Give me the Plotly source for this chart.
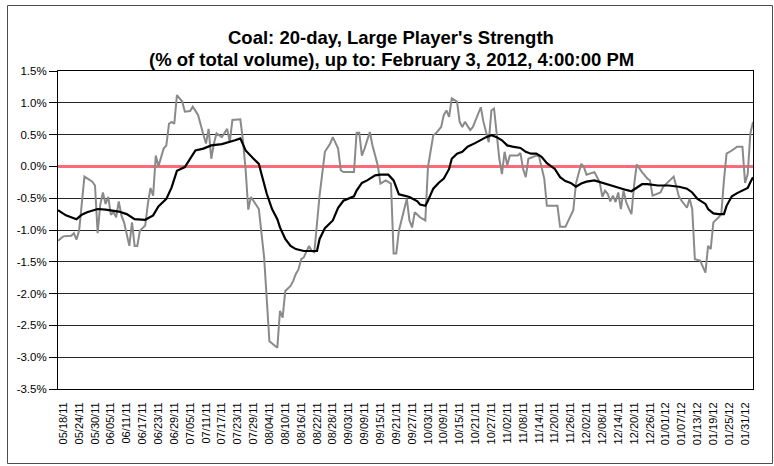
import plotly.graph_objects as go
import pandas as pd

# ---- data (values in % of total volume) ----
gray_dates = [
    "2011-05-16", "2011-05-18", "2011-05-21", "2011-05-22", "2011-05-23", "2011-05-24", "2011-05-26",
    "2011-05-28", "2011-05-29", "2011-05-30", "2011-05-31", "2011-06-01", "2011-06-02", "2011-06-03",
    "2011-06-04", "2011-06-05", "2011-06-06", "2011-06-07", "2011-06-08", "2011-06-09", "2011-06-10",
    "2011-06-12", "2011-06-13", "2011-06-14", "2011-06-15", "2011-06-16", "2011-06-18", "2011-06-19",
    "2011-06-20", "2011-06-21", "2011-06-22", "2011-06-23", "2011-06-25", "2011-06-26", "2011-06-27",
    "2011-06-28", "2011-06-29", "2011-06-30", "2011-07-02", "2011-07-03", "2011-07-05", "2011-07-06",
    "2011-07-08", "2011-07-10", "2011-07-11", "2011-07-12", "2011-07-13", "2011-07-14", "2011-07-15",
    "2011-07-17", "2011-07-19", "2011-07-20", "2011-07-21", "2011-07-24", "2011-07-25", "2011-07-26",
    "2011-07-27", "2011-07-28", "2011-07-31", "2011-08-02", "2011-08-03", "2011-08-04", "2011-08-07",
    "2011-08-08", "2011-08-09", "2011-08-10", "2011-08-12", "2011-08-13", "2011-08-14", "2011-08-15",
    "2011-08-16", "2011-08-17", "2011-08-19", "2011-08-20", "2011-08-21", "2011-08-22", "2011-08-23",
    "2011-08-25", "2011-08-27", "2011-08-28", "2011-08-30", "2011-08-31", "2011-09-01", "2011-09-05",
    "2011-09-06", "2011-09-07", "2011-09-08", "2011-09-09", "2011-09-11", "2011-09-12", "2011-09-14",
    "2011-09-15", "2011-09-17", "2011-09-19", "2011-09-20", "2011-09-21", "2011-09-22", "2011-09-25",
    "2011-09-26", "2011-09-27", "2011-09-28", "2011-09-30", "2011-10-02", "2011-10-03", "2011-10-05",
    "2011-10-06", "2011-10-08", "2011-10-09", "2011-10-10", "2011-10-11", "2011-10-12", "2011-10-14",
    "2011-10-15", "2011-10-16", "2011-10-17", "2011-10-19", "2011-10-20", "2011-10-23", "2011-10-24",
    "2011-10-26", "2011-10-27", "2011-10-28", "2011-10-29", "2011-10-30", "2011-10-31", "2011-11-01",
    "2011-11-02", "2011-11-03", "2011-11-06", "2011-11-07", "2011-11-08", "2011-11-09", "2011-11-10",
    "2011-11-13", "2011-11-14", "2011-11-16", "2011-11-17", "2011-11-21", "2011-11-22", "2011-11-24",
    "2011-11-27", "2011-11-28", "2011-11-30", "2011-12-01", "2011-12-02", "2011-12-05", "2011-12-06",
    "2011-12-07", "2011-12-08", "2011-12-09", "2011-12-10", "2011-12-11", "2011-12-12", "2011-12-13",
    "2011-12-14", "2011-12-15", "2011-12-16", "2011-12-17", "2011-12-18", "2011-12-19", "2011-12-20",
    "2011-12-21", "2011-12-23", "2011-12-25", "2011-12-26", "2011-12-27", "2011-12-30", "2011-12-31",
    "2012-01-04", "2012-01-06", "2012-01-07", "2012-01-09", "2012-01-10", "2012-01-11", "2012-01-12",
    "2012-01-14", "2012-01-16", "2012-01-17", "2012-01-18", "2012-01-19", "2012-01-21", "2012-01-22",
    "2012-01-23", "2012-01-24", "2012-01-26", "2012-01-28", "2012-01-30", "2012-01-31", "2012-02-01",
    "2012-02-02", "2012-02-03",
]
gray_values = [
    -1.17, -1.10, -1.09, -1.05, -1.15, -1.01, -0.16,
    -0.21, -0.24, -0.30, -1.05, -0.60, -0.41, -0.59,
    -0.48, -0.76, -0.72, -0.80, -0.55, -0.77, -0.88,
    -1.25, -0.88, -1.25, -1.25, -1.01, -0.93, -0.59,
    -0.34, -0.46, 0.17, 0.00, 0.28, 0.33, 0.67,
    0.70, 0.67, 1.12, 1.02, 0.86, 0.87, 0.94,
    0.81, 0.50, 0.36, 0.59, 0.12, 0.36, 0.52,
    0.46, 0.59, 0.38, 0.73, 0.74, 0.40, -0.05,
    -0.68, -0.48, -0.67, -1.43, -2.01, -2.75, -2.85,
    -2.27, -2.38, -1.96, -1.88, -1.80, -1.69, -1.62,
    -1.46, -1.43, -1.25, -1.33, -1.35, -0.95, -0.45,
    0.23, 0.36, 0.46, 0.28, -0.06, -0.09, -0.09,
    0.53, 0.53, 0.17, 0.28, 0.54, 0.33, 0.02,
    -0.27, -0.22, -0.27, -1.37, -1.37, -1.01, -0.51,
    -0.85, -0.96, -0.72, -0.80, -0.85, -0.01, 0.49,
    0.52, 0.62, 0.81, 0.88, 0.78, 1.07, 1.02,
    0.70, 0.62, 0.70, 0.57, 0.62, 0.93, 0.70,
    0.38, 0.88, 0.91, 0.46, 0.12, -0.12, 0.23,
    0.02, 0.17, 0.17, 0.21, -0.04, -0.17, 0.12,
    0.17, 0.16, -0.19, -0.62, -0.62, -0.95, -0.95,
    -0.69, -0.27, 0.04, -0.01, -0.13, -0.09, -0.17,
    -0.25, -0.48, -0.38, -0.43, -0.55, -0.46, -0.56,
    -0.41, -0.67, -0.38, -0.56, -0.66, -0.75, -0.30,
    0.03, -0.09, -0.19, -0.22, -0.46, -0.41, -0.32,
    -0.16, -0.48, -0.54, -0.65, -0.51, -0.67, -1.46,
    -1.48, -1.67, -1.25, -1.30, -0.88, -0.80, -0.75,
    -0.22, 0.20, 0.25, 0.31, 0.31, -0.26, -0.12,
    0.52, 0.70,
]

black_dates = [
    "2011-05-16", "2011-05-19", "2011-05-23", "2011-05-25", "2011-05-27", "2011-05-31", "2011-06-03",
    "2011-06-08", "2011-06-11", "2011-06-14", "2011-06-18", "2011-06-21", "2011-06-23", "2011-06-26",
    "2011-06-28", "2011-06-30", "2011-07-03", "2011-07-05", "2011-07-07", "2011-07-10", "2011-07-13",
    "2011-07-17", "2011-07-20", "2011-07-22", "2011-07-24", "2011-07-26", "2011-07-29", "2011-07-31",
    "2011-08-01", "2011-08-03", "2011-08-05", "2011-08-07", "2011-08-08", "2011-08-10", "2011-08-12",
    "2011-08-14", "2011-08-17", "2011-08-19", "2011-08-22", "2011-08-23", "2011-08-25", "2011-08-28",
    "2011-08-30", "2011-09-01", "2011-09-03", "2011-09-05", "2011-09-06", "2011-09-08", "2011-09-10",
    "2011-09-13", "2011-09-15", "2011-09-18", "2011-09-20", "2011-09-22", "2011-09-24", "2011-09-26",
    "2011-09-29", "2011-09-30", "2011-10-02", "2011-10-03", "2011-10-05", "2011-10-07", "2011-10-09",
    "2011-10-11", "2011-10-12", "2011-10-14", "2011-10-16", "2011-10-18", "2011-10-21", "2011-10-23",
    "2011-10-25", "2011-10-27", "2011-10-29", "2011-10-31", "2011-11-02", "2011-11-04", "2011-11-07",
    "2011-11-09", "2011-11-11", "2011-11-13", "2011-11-15", "2011-11-17", "2011-11-20", "2011-11-22",
    "2011-11-24", "2011-11-26", "2011-11-28", "2011-11-30", "2011-12-02", "2011-12-05", "2011-12-08",
    "2011-12-10", "2011-12-13", "2011-12-14", "2011-12-17", "2011-12-19", "2011-12-21", "2011-12-23",
    "2011-12-25", "2011-12-29", "2012-01-02", "2012-01-06", "2012-01-09", "2012-01-11", "2012-01-13",
    "2012-01-16", "2012-01-17", "2012-01-19", "2012-01-21", "2012-01-23", "2012-01-24", "2012-01-26",
    "2012-01-28", "2012-01-30", "2012-02-01", "2012-02-02", "2012-02-03",
]
black_values = [
    -0.69, -0.77, -0.83, -0.76, -0.72, -0.67, -0.68,
    -0.71, -0.75, -0.83, -0.84, -0.77, -0.63, -0.51,
    -0.33, -0.07, -0.01, 0.11, 0.25, 0.28, 0.33,
    0.35, 0.38, 0.41, 0.44, 0.25, 0.12, 0.04,
    -0.12, -0.43, -0.67, -0.83, -0.96, -1.14, -1.25,
    -1.30, -1.33, -1.33, -1.33, -1.14, -0.97, -0.85,
    -0.65, -0.54, -0.51, -0.47, -0.38, -0.26, -0.22,
    -0.14, -0.13, -0.13, -0.22, -0.44, -0.46, -0.48,
    -0.55, -0.60, -0.62, -0.54, -0.35, -0.26, -0.19,
    -0.04, 0.12, 0.20, 0.23, 0.31, 0.37, 0.42,
    0.46, 0.49, 0.46, 0.41, 0.33, 0.31, 0.29,
    0.23, 0.20, 0.20, 0.15, 0.05, -0.04, -0.17,
    -0.23, -0.26, -0.32, -0.27, -0.24, -0.22, -0.26,
    -0.28, -0.32, -0.34, -0.37, -0.39, -0.34, -0.28,
    -0.28, -0.30, -0.30, -0.32, -0.35, -0.41, -0.51,
    -0.59, -0.67, -0.74, -0.75, -0.75, -0.62, -0.47,
    -0.42, -0.38, -0.34, -0.25, -0.17,
]

x_tick_labels = [
    "05/18/11", "05/24/11", "05/30/11", "06/05/11", "06/11/11", "06/17/11", "06/23/11", "06/29/11",
    "07/05/11", "07/11/11", "07/17/11", "07/23/11", "07/29/11", "08/04/11", "08/10/11", "08/16/11",
    "08/22/11", "08/28/11", "09/03/11", "09/09/11", "09/15/11", "09/21/11", "09/27/11", "10/03/11",
    "10/09/11", "10/15/11", "10/21/11", "10/27/11", "11/02/11", "11/08/11", "11/14/11", "11/20/11",
    "11/26/11", "12/02/11", "12/08/11", "12/14/11", "12/20/11", "12/26/11", "01/01/12", "01/07/12",
    "01/13/12", "01/19/12", "01/25/12", "01/31/12",
]
y_tick_values = [1.5, 1.0, 0.5, 0.0, -0.5, -1.0, -1.5, -2.0, -2.5, -3.0, -3.5]
y_tick_labels = ["1.5%", "1.0%", "0.5%", "0.0%", "-0.5%", "-1.0%", "-1.5%", "-2.0%", "-2.5%", "-3.0%", "-3.5%"]
x_start, x_end = "2011-05-16", "2012-02-03"

title_line1 = "Coal: 20-day, Large Player's Strength"
title_line2 = "(% of total volume), up to: February 3, 2012, 4:00:00 PM"

# ---- figure ----
FONT = "Liberation Sans, Arial, sans-serif"
x_tick_vals = [pd.to_datetime(t, format="%m/%d/%y") for t in x_tick_labels]

fig = go.Figure()
fig.add_trace(go.Scatter(x=pd.to_datetime(gray_dates), y=gray_values, mode="lines",
                         line=dict(color="#8a8a8a", width=2), showlegend=False))
fig.add_trace(go.Scatter(x=pd.to_datetime(black_dates), y=black_values, mode="lines",
                         line=dict(color="#000000", width=2.2), showlegend=False))

W, H = 774, 466
L, R, T, B = 58, 21, 71, 77
pw, ph = W - L - R, H - T - B

def px_x(p):
    return (p - L) / pw

def px_y(p):
    return (H - B - p) / ph

fig.update_layout(
    width=W, height=H,
    margin=dict(l=L, r=R, t=T, b=B, pad=0),
    paper_bgcolor="white", plot_bgcolor="white",
    font=dict(family=FONT, color="#000000", size=12),
    showlegend=False,
    xaxis=dict(
        type="date", range=[x_start, x_end],
        tickmode="array", tickvals=x_tick_vals, ticktext=x_tick_labels,
        tickangle=-90, tickfont=dict(size=11, family=FONT),
        showgrid=False, zeroline=False,
        showline=True, linecolor="#000000", linewidth=1, mirror=True,
        ticks="", ticklabelstandoff=8,
    ),
    yaxis=dict(
        range=[-3.5, 1.5],
        tickmode="array", tickvals=y_tick_values, ticktext=y_tick_labels,
        tickfont=dict(size=11.5, family=FONT),
        showgrid=True, gridcolor="#262626", gridwidth=1,
        zeroline=True, zerolinecolor="#ff6a78", zerolinewidth=3,
        showline=True, linecolor="#000000", linewidth=1, mirror=True,
        ticks="outside", ticklen=8, tickcolor="#000000", tickwidth=1,
    ),
    shapes=[
        dict(type="rect", xref="paper", yref="paper",
             x0=px_x(7.5), x1=px_x(772.5), y0=px_y(463.5), y1=px_y(5.5),
             line=dict(color="#4d4d4d", width=1), fillcolor="rgba(0,0,0,0)", layer="below"),
    ],
    annotations=[
        dict(text="<b>" + title_line1 + "</b>", xref="paper", yref="paper",
             x=px_x(391), y=px_y(37), xanchor="center", yanchor="middle", showarrow=False,
             font=dict(size=18.5, family=FONT, color="#000000")),
        dict(text="<b>" + title_line2 + "</b>", xref="paper", yref="paper",
             x=px_x(391), y=px_y(59), xanchor="center", yanchor="middle", showarrow=False,
             font=dict(size=18.5, family=FONT, color="#000000")),
    ],
)

fig.write_html("out.html", config={"displayModeBar": False},
               post_script="document.body.style.margin='0';document.body.style.padding='0';")
